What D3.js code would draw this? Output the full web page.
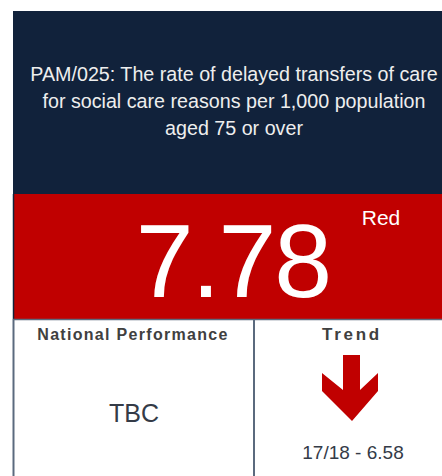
<!DOCTYPE html>
<html>
<head>
<meta charset="utf-8">
<script src="https://cdn.jsdelivr.net/npm/d3@7"></script>
<style>
  body { margin: 0; background: #fff; }
  svg { display: block; font-family: "Liberation Sans", Arial, sans-serif; }
</style>
</head>
<body>
<div id="svganchor"></div>
<script>
const width = 442;
const height = 476;

// indicator data
const titleLines = ["PAM/025: The rate of delayed transfers of care",
                    "for social care reasons per 1,000 population",
                    "aged 75 or over"];
const value = [7.78];
const ragStatus = ["Red"];
const panelLabels = ["National Performance", "Trend"];
const nationalValue = ["TBC"];
const previous = [{year: "17/18", value: 6.58}];
const trendDirection = ["down"];

const navy = "#11223b";
const red = "#c00000";
const lineCol = "#5b6a7e";

let svg = d3.select("#svganchor")
    .append("svg")
    .attr("width", width)
    .attr("height", height);

// header
svg.append("rect")
    .attr("x", 13).attr("y", 11)
    .attr("width", width).attr("height", 184)
    .attr("fill", navy);

svg.append("text")
    .attr("text-anchor", "middle")
    .attr("fill", "#eeeeee")
    .style("font-size", "19.7px")
    .selectAll("tspan")
    .data(titleLines)
    .enter()
    .append("tspan")
    .attr("x", 234)
    .attr("y", (d, i) => 81 + i * 27)
    .text(d => d);

// value band
svg.append("rect")
    .attr("x", 13).attr("y", 194)
    .attr("width", width).attr("height", 125)
    .attr("fill", red);
svg.append("line")
    .attr("x1", 13.5).attr("x2", 13.5)
    .attr("y1", 194).attr("y2", 319)
    .attr("stroke", navy).attr("stroke-width", 1.5);

svg.selectAll(".value")
    .data(value)
    .enter()
    .append("text")
    .attr("class", "value")
    .attr("x", 233)
    .attr("y", 297)
    .attr("text-anchor", "middle")
    .attr("fill", "#fff")
    .style("font-size", "104px")
    .style("letter-spacing", "-2px")
    .text(d => d3.format(".2f")(d));

svg.selectAll(".rag")
    .data(ragStatus)
    .enter()
    .append("text")
    .attr("class", "rag")
    .attr("x", 381)
    .attr("y", 225)
    .attr("text-anchor", "middle")
    .attr("fill", "#fff")
    .style("font-size", "21px")
    .text(d => d);

// bottom panels
const x = d3.scaleBand()
    .domain(panelLabels)
    .range([13.5, 254 + (254 - 13.5)]);

svg.append("line")
    .attr("x1", 13).attr("x2", width)
    .attr("y1", 319.5).attr("y2", 319.5)
    .attr("stroke", lineCol).attr("stroke-width", 1.5);

svg.selectAll(".divider")
    .data(panelLabels)
    .enter()
    .append("line")
    .attr("class", "divider")
    .attr("x1", d => x(d)).attr("x2", d => x(d))
    .attr("y1", 319).attr("y2", height)
    .attr("stroke", lineCol).attr("stroke-width", 2);

svg.selectAll(".panelLabel")
    .data(panelLabels)
    .enter()
    .append("text")
    .attr("class", "panelLabel")
    .attr("x", (d, i) => i === 0 ? 133 : 352)
    .attr("y", 340)
    .attr("text-anchor", "middle")
    .attr("fill", "#404040")
    .style("font-weight", "bold")
    .style("font-size", (d, i) => i === 0 ? "16px" : "17px")
    .style("letter-spacing", (d, i) => i === 0 ? "1.3px" : "2.7px")
    .text(d => d);

svg.selectAll(".national")
    .data(nationalValue)
    .enter()
    .append("text")
    .attr("class", "national")
    .attr("x", 134)
    .attr("y", 422)
    .attr("text-anchor", "middle")
    .attr("fill", "#343b47")
    .style("font-size", "25px")
    .text(d => d);

// trend arrow
const arrowDown = [[343, 355], [360, 355], [360, 390], [378, 373], [378, 391],
                   [352, 421], [322, 391], [322, 373], [343, 390]];
svg.selectAll(".arrow")
    .data(trendDirection)
    .enter()
    .append("path")
    .attr("class", "arrow")
    .attr("d", d3.line()(arrowDown) + "Z")
    .attr("fill", red);

svg.selectAll(".previous")
    .data(previous)
    .enter()
    .append("text")
    .attr("class", "previous")
    .attr("x", 353)
    .attr("y", 459)
    .attr("text-anchor", "middle")
    .attr("fill", "#343b47")
    .style("font-size", "19px")
    .text(d => `${d.year} - ${d3.format(".2f")(d.value)}`);
</script>
</body>
</html>
